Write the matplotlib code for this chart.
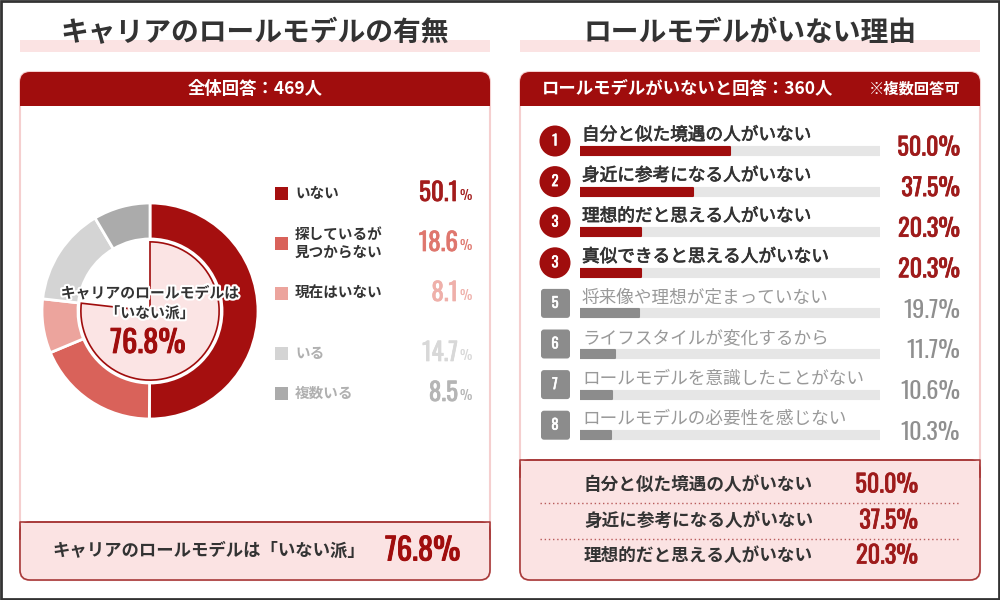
import matplotlib
matplotlib.use('Agg')
from matplotlib import pyplot as plt
from matplotlib import font_manager as fm
from matplotlib.patches import FancyBboxPatch, Rectangle, Circle
import matplotlib.patheffects as pe

plt.rcParams['font.family'] = ['Noto Sans CJK JP', 'DejaVu Sans']

# Pick a condensed face for the numbers.
installed = set(f.name for f in fm.fontManager.ttflist)
numCandidates = ['Oswald', 'Roboto Condensed', 'Bebas Neue', 'DejaVu Sans']
NUM_FONT = [f for f in numCandidates if f in installed][:1] + ['DejaVu Sans']

# Texts.
titleLeft = 'キャリアのロールモデルの有無'
titleRight = 'ロールモデルがいない理由'
headerLeft = '全体回答：469人'
headerRight = 'ロールモデルがいないと回答：360人'
headerNote = '※複数回答可'

# Donut data.
pieLabels = ['いない', '探しているが\n見つからない', '現在はいない', 'いる', '複数いる']
pieValues = [50.1, 18.6, 8.1, 14.7, 8.5]
noneShare = 76.8
noneCaption = 'キャリアのロールモデルは「いない派」'
noneCenter = 'キャリアのロールモデルは\n「いない派」'

# Reasons data.
reasons = [
  '自分と似た境遇の人がいない',
  '身近に参考になる人がいない',
  '理想的だと思える人がいない',
  '真似できると思える人がいない',
  '将来像や理想が定まっていない',
  'ライフスタイルが変化するから',
  'ロールモデルを意識したことがない',
  'ロールモデルの必要性を感じない',
]
reasonValues = [50.0, 37.5, 20.3, 20.3, 19.7, 11.7, 10.6, 10.3]
reasonRanks = [1, 2, 3, 3, 5, 6, 7, 8]
topCount = 3

# Colours.
darkRed = '#a00d0d'
numRed = '#9e1b1b'
pink = '#fbe3e3'
pieColors = ['#a50f0f', '#d9625a', '#eca49d', '#d4d4d4', '#ababab']
pctColors = ['#a31c1c', '#df776e', '#efb0aa', '#d8d8d8', '#b5b5b5']
textDark = '#333333'
grayText = '#8f8f8f'


def thick(color, lw=0.5):
  # Fake a heavier weight with a thin same-colour stroke.
  return [pe.withStroke(linewidth=lw, foreground=color)]


def frac(x0, y0, x1, y1):
  # Pixel box (top-left origin) to figure fraction.
  return [x0 / 1000, 1 - y1 / 600, (x1 - x0) / 1000, (y1 - y0) / 600]


def panel(ax, x0, x1, boxTop):
  w = x1 - x0
  # Pink band under the title.
  ax.add_patch(Rectangle((x0, 40), w, 12, fc=pink, ec='none', zorder=1))
  # White body with pink border.
  ax.add_patch(FancyBboxPatch((x0, 72), w, 508, boxstyle='round,pad=0,rounding_size=10',
                              fc='white', ec='#f5cfcf', lw=1.5, zorder=1))
  # Red header.
  ax.add_patch(FancyBboxPatch((x0, 72), w, 34, boxstyle='round,pad=0,rounding_size=10',
                              fc=darkRed, ec='none', zorder=2))
  ax.add_patch(Rectangle((x0, 90), w, 16, fc=darkRed, ec='none', zorder=2))
  # Pink summary box at the bottom.
  ax.add_patch(FancyBboxPatch((x0, boxTop), w, 580 - boxTop, boxstyle='round,pad=0,rounding_size=10',
                              fc=pink, ec='#a83a3a', lw=1.2, zorder=2))
  ax.add_patch(Rectangle((x0 + 0.6, boxTop + 0.6), w - 1.2, 16, fc=pink, ec='none', zorder=2))
  ax.plot([x0, x0, x1, x1], [boxTop + 17, boxTop, boxTop, boxTop + 17], color='#a83a3a', lw=1.2, zorder=3)


fig = plt.figure(figsize=(10, 6), dpi=100)
ax = fig.add_axes([0, 0, 1, 1])
ax.set_xlim(0, 1000)
ax.set_ylim(600, 0)
ax.axis('off')

# Outer frame.
ax.add_patch(Rectangle((1, 1), 998, 598, fc='none', ec='#333333', lw=2, zorder=5))

panel(ax, 20, 490, 522)
panel(ax, 520, 980, 460)

# Titles and headers.
ax.text(255, 33, titleLeft, ha='center', va='center', fontsize=20, fontweight='bold', color=textDark, zorder=4)
ax.text(750, 33, titleRight, ha='center', va='center', fontsize=20, fontweight='bold', color=textDark, zorder=4)
ax.text(255, 89, headerLeft, ha='center', va='center', fontsize=12.5, fontweight='bold', color='white', zorder=4)
ax.text(542, 89, headerRight, ha='left', va='center', fontsize=12.5, fontweight='bold', color='white', zorder=4)
ax.text(960, 89, headerNote, ha='right', va='center', fontsize=11, fontweight='bold', color='white', zorder=4)

# Donut.
pax = fig.add_axes(frac(42, 203, 258, 419))
pax.pie(pieValues, radius=1, startangle=90, counterclock=False, colors=pieColors,
        wedgeprops=dict(width=0.333, edgecolor='white', linewidth=2))
inner, _ = pax.pie([noneShare, 100 - noneShare], radius=0.64, startangle=90, counterclock=False,
                   colors=['#fbe4e4', 'none'], wedgeprops=dict(edgecolor=darkRed, linewidth=1.2))
inner[1].set_edgecolor('none')
pax.set_xlim(-1, 1)
pax.set_ylim(-1, 1)
pax.axis('off')
stroke = [pe.withStroke(linewidth=3, foreground='white')]
pax.text(0, 0.075, noneCenter, ha='center', va='center', fontsize=10.7, fontweight='bold',
         color=textDark, linespacing=1.3, path_effects=stroke)
pax.text(-0.02, -0.30, '%.1f%%' % noneShare, ha='center', va='center', fontsize=22,
         color=darkRed, family=NUM_FONT, path_effects=thick(darkRed, 0.7))

# Legend.
legendY = [193, 243, 293, 353, 393]
for i, (label, value, col, pcol, y) in enumerate(zip(pieLabels, pieValues, pieColors, pctColors, legendY)):
  ax.add_patch(Rectangle((275, y - 6.5), 13, 13, fc=col, ec='none', zorder=3))
  ax.text(295, y, label, ha='left', va='center', fontsize=10.5, fontweight='bold',
          color=textDark if i < 3 else '#b0b0b0', linespacing=1.1, zorder=4)
  ax.text(458, y, '%.1f' % value, ha='right', va='center', fontsize=18,
          color=pcol, family=NUM_FONT, path_effects=thick(pcol), zorder=4)
  ax.text(459, y + 3, '%', ha='left', va='center', fontsize=10, color=pcol,
          family=NUM_FONT, zorder=4)

# Left summary.
ax.text(52, 551, noneCaption, ha='left', va='center', fontsize=12.5, fontweight='bold', color=textDark, zorder=4)
ax.text(385, 551, '%.1f%%' % noneShare, ha='left', va='center', fontsize=22,
        color=darkRed, family=NUM_FONT, path_effects=thick(darkRed, 0.7), zorder=4)

# Reason bars.
rowTop = 151
rowStep = 40.6
n = len(reasons)
bax = fig.add_axes(frac(580, rowTop - rowStep / 2, 880, rowTop + rowStep * (n - 0.5)))
bax.set_xlim(0, 100)
bax.set_ylim(n - 0.5, -0.5)
bax.axis('off')
highlight = [r <= topCount for r in reasonRanks]
barColors = [darkRed if h else '#8c8c8c' for h in highlight]
bax.barh(range(n), [100] * n, height=0.2, color='#e6e6e6', edgecolor='#e6e6e6', lw=1.5, joinstyle='round')
bax.barh(range(n), reasonValues, height=0.2, color=barColors, edgecolor=barColors, lw=1.5, joinstyle='round')

for i, (label, value, rank, h) in enumerate(zip(reasons, reasonValues, reasonRanks, highlight)):
  y = rowTop + rowStep * i
  if h:
    ax.add_patch(Circle((555, y - 10), 15.5, fc=darkRed, ec='none', zorder=3))
  else:
    ax.add_patch(FancyBboxPatch((541, y - 24.5), 29, 29, boxstyle='round,pad=0,rounding_size=3',
                                fc='#8c8c8c', ec='none', zorder=3))
  ax.text(555, y - 10, str(rank), ha='center', va='center', fontsize=10.5,
          color='white', family=NUM_FONT, path_effects=thick('white', 0.4), zorder=4)
  labelColor = textDark if h else '#999999'
  ax.text(582, y - 16, label, ha='left', va='center', fontsize=12.7, color=labelColor,
          path_effects=thick(labelColor, 0.5) if h else None, zorder=4)
  valueColor = numRed if h else grayText
  ax.text(960, y - 3, '%.1f%%' % value, ha='right', va='center', fontsize=17.5,
          color=valueColor, family=NUM_FONT,
          path_effects=thick(valueColor) if h else None, zorder=4)

# Right summary: top answers.
summaryY = [485, 521, 556]
for label, value, y in zip(reasons[:topCount], reasonValues[:topCount], summaryY):
  ax.text(813, y, label, ha='right', va='center', fontsize=12.7, fontweight='bold', color=textDark, zorder=4)
  ax.text(918, y, '%.1f%%' % value, ha='right', va='center', fontsize=17.5,
          color=numRed, family=NUM_FONT, path_effects=thick(numRed), zorder=4)
for y in [503, 539]:
  ax.plot([540, 960], [y, y], color='#b85a5a', lw=1, ls=(0, (1, 2)), zorder=4)

fig.savefig('out.png', dpi=100)
